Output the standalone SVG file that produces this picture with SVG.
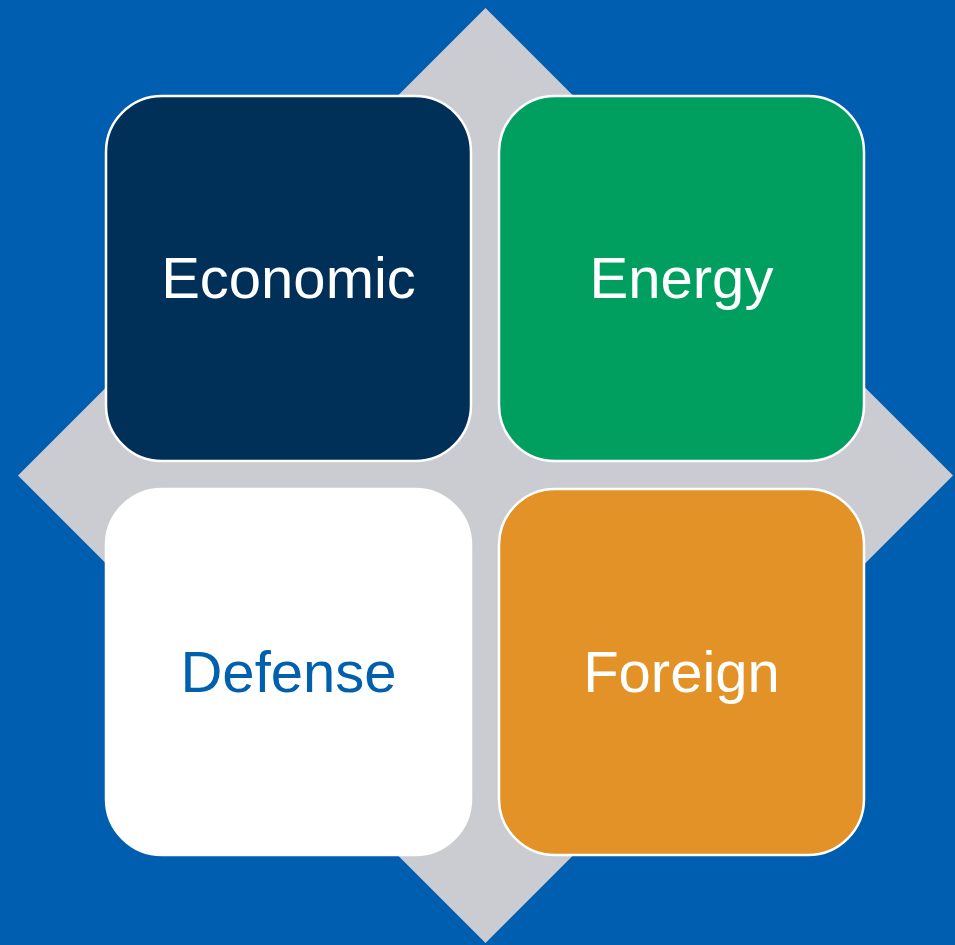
<svg xmlns="http://www.w3.org/2000/svg" width="955" height="945" viewBox="0 0 955 945">
  <style>
    .tile { stroke: #FFFFFF; stroke-width: 2.5; }
    .label { font-family: "Liberation Sans", Arial, sans-serif; font-size: 58px; text-anchor: middle; fill: #FFFFFF; }
  </style>
  <rect width="955" height="945" fill="#005EB0"/>
  <!-- grey diamond behind the tiles -->
  <polygon id="diamond" points="485.5,8 953,475.5 485.5,943 18,475.5" fill="#CBCCD1"/>
  <g id="economic">
    <rect class="tile" x="106" y="96" width="365" height="365" rx="56" fill="#003057"/>
    <text class="label" x="288.5" y="298">Economic</text>
  </g>
  <g id="energy">
    <rect class="tile" x="499" y="96" width="365" height="365" rx="56" fill="#009F60"/>
    <text class="label" x="681.5" y="298">Energy</text>
  </g>
  <g id="defense">
    <rect class="tile" x="106" y="489" width="365" height="366" rx="56" fill="#FFFFFF"/>
    <text class="label" x="288.5" y="692" fill="#0060AE" style="fill:#0060AE">Defense</text>
  </g>
  <g id="foreign">
    <rect class="tile" x="499" y="489" width="365" height="366" rx="56" fill="#E29226"/>
    <text class="label" x="681.5" y="692">Foreign</text>
  </g>
  <g id="connectors"/>
</svg>
